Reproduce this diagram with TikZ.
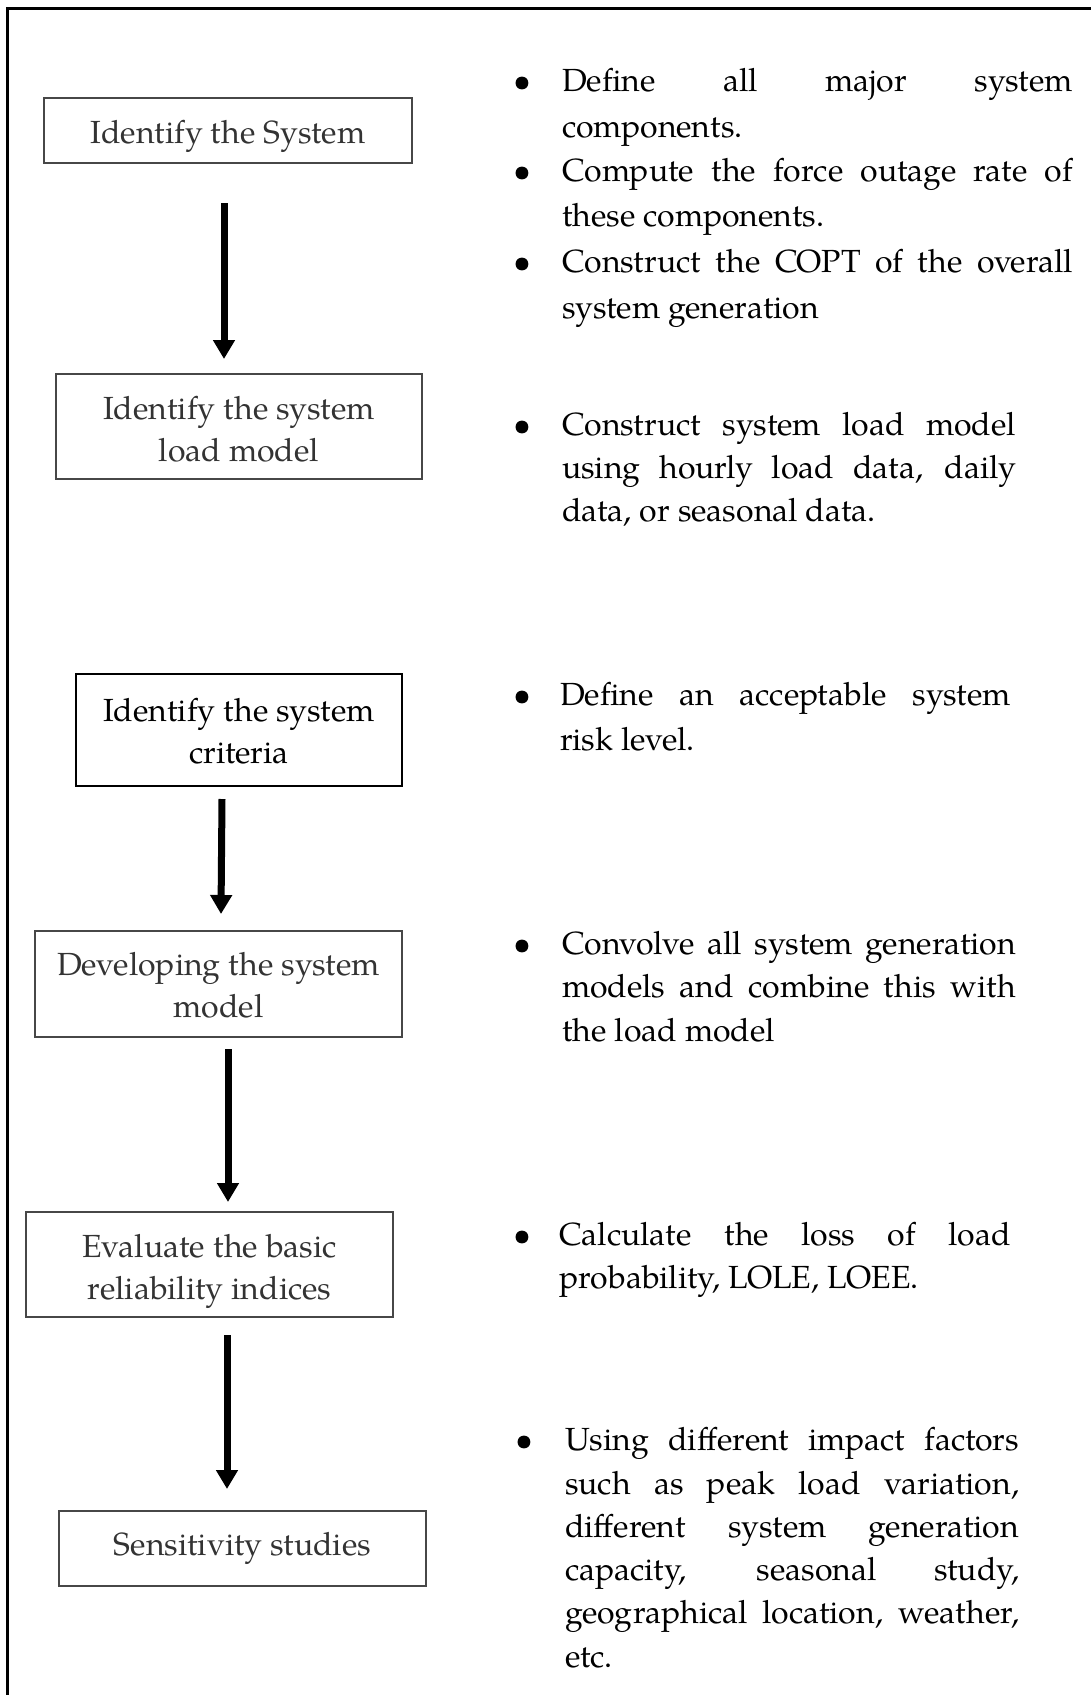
\documentclass[tikz,border=0pt]{standalone}
\usepackage{fontspec}
\setmainfont{texgyrepagella}[Extension=.otf, UprightFont=*-regular, BoldFont=*-bold, ItalicFont=*-italic, BoldItalicFont=*-bolditalic]
\usetikzlibrary{arrows.meta,calc}

\newcommand\boxfont{\fontsize{32}{42}\selectfont}
\newcommand\listfont{\fontsize{32}{43}\selectfont}

\begin{document}
\begin{tikzpicture}[x=1pt,y=-1pt,
  every node/.style={inner sep=0pt, outer sep=0pt},
  stepbox/.style={draw=black!72, line width=1.4pt},
  keybox/.style={draw=black, line width=2.6pt},
  boxtext/.style={align=center, font=\boxfont, text=black!80},
  keytext/.style={boxtext, text=black},
  flow/.style={line width=7pt, -{Triangle[width=21pt,length=19pt]}},
  frameline/.style={line width=3pt, line cap=rect},
  listline/.style={anchor=base west, font=\listfont, text=black},
  dot/.style={anchor=base, font=\listfont, text=black}]

\useasboundingbox (0,0) rectangle (1091,1695);

% outer frame: top and left rules only
\draw[frameline] (7.5,1700) -- (7.5,8) -- (1095,8);

% process steps (caption set as a centred label inside each box)
\node[stepbox, minimum width=368pt, minimum height=65pt,
  label={[name=l1, boxtext, yshift=-5.4pt]center:Identify the System}] (b1) at (228,130.5) {};
\node[stepbox, minimum width=366pt, minimum height=105pt,
  label={[name=l2, boxtext, yshift=-2.2pt]center:{Identify the system\\load model}}] (b2) at (239,426.5) {};
\node[keybox, minimum width=326pt, minimum height=112pt,
  label={[name=l3, keytext, yshift=-1pt]center:{Identify the system\\criteria}}] (b3) at (239,730) {};
\node[stepbox, minimum width=367pt, minimum height=106pt,
  label={[name=l4, boxtext, yshift=-1.6pt]center:{Developing the system\\model}}] (b4) at (218.5,984) {};
\node[stepbox, minimum width=367pt, minimum height=105pt,
  label={[name=l5, boxtext, yshift=-7pt]center:{Evaluate the basic\\reliability indices}}] (b5) at (209.5,1264.5) {};
\node[stepbox, minimum width=367pt, minimum height=75pt,
  label={[name=l6, boxtext]center:Sensitivity studies}] (b6) at (242.5,1548.5) {};

% arrows between steps
\draw[flow] ($(b1.south)+(-4,40)$)    -- ($(b2.north)+(-15,-15)$);
\draw[flow] ($(b3.south)+(-17,13)$)   -- ($(b4.north)+(2.5,-17)$);
\draw[flow] ($(b4.south)+(9.5,12)$)   -- ($(b5.north)+(18.5,-10)$);
\draw[flow] ($(b5.south)+(17.5,18)$)  -- ($(b6.north)+(-15.5,-22)$);

% notes for step 1
\node[dot] (d1a) at (522,91.7) {\textbullet};
\node[listline] (t1a) at (562,91.7)  {\makebox[511pt][s]{Define all major system}};
\node[listline] (t1b) at (562,137.2) {components.};
\node[dot] (d1b) at (522,181.7) {\textbullet};
\node[listline] (t1c) at (562,181.7) {\makebox[511pt][s]{Compute the force outage rate of}};
\node[listline] (t1d) at (562,226.7) {these components.};
\node[dot] (d1c) at (522,272.7) {\textbullet};
\node[listline] (t1e) at (562,272.7) {\makebox[511pt][s]{Construct the COPT of the overall}};
\node[listline] (t1f) at (562,318.2) {system generation};

% notes for step 2
\node[dot] (d2) at (522,435.7) {\textbullet};
\node[listline] (t2a) at (562,435.7) {\makebox[454pt][s]{Construct system load model}};
\node[listline] (t2b) at (562,478.7) {\makebox[454pt][s]{using hourly load data, daily}};
\node[listline] (t2c) at (562,521.2) {data, or seasonal data.};

% notes for step 3
\node[dot] (d3) at (522,705.7) {\textbullet};
\node[listline] (t3a) at (560,705.7) {\makebox[451pt][s]{Define an acceptable system}};
\node[listline] (t3b) at (560,750.2) {risk level.};

% notes for step 4
\node[dot] (d4) at (522,954.7) {\textbullet};
\node[listline] (t4a) at (562,954.7) {\makebox[454pt][s]{Convolve all system generation}};
\node[listline] (t4b) at (562,997.7) {\makebox[454pt][s]{models and combine this with}};
\node[listline] (t4c) at (562,1041.2) {the load model};

% notes for step 5
\node[dot] (d5) at (522,1245.7) {\textbullet};
\node[listline] (t5a) at (559,1245.7) {\makebox[452pt][s]{Calculate the loss of load}};
\node[listline] (t5b) at (559,1288.7) {probability, LOLE, LOEE.};

% notes for step 6
\node[dot] (d6) at (524,1450.7) {\textbullet};
\node[listline] (t6a) at (565,1450.7) {\makebox[454pt][s]{Using different impact factors}};
\node[listline] (t6b) at (565,1494)   {\makebox[454pt][s]{such as peak load variation,}};
\node[listline] (t6c) at (565,1537.2) {\makebox[454pt][s]{different system generation}};
\node[listline] (t6d) at (565,1580.5) {\makebox[454pt][s]{capacity, seasonal study,}};
\node[listline] (t6e) at (565,1623.7) {\makebox[454pt][s]{geographical location, weather,}};
\node[listline] (t6f) at (565,1667)   {etc.};
\end{tikzpicture}
\end{document}
